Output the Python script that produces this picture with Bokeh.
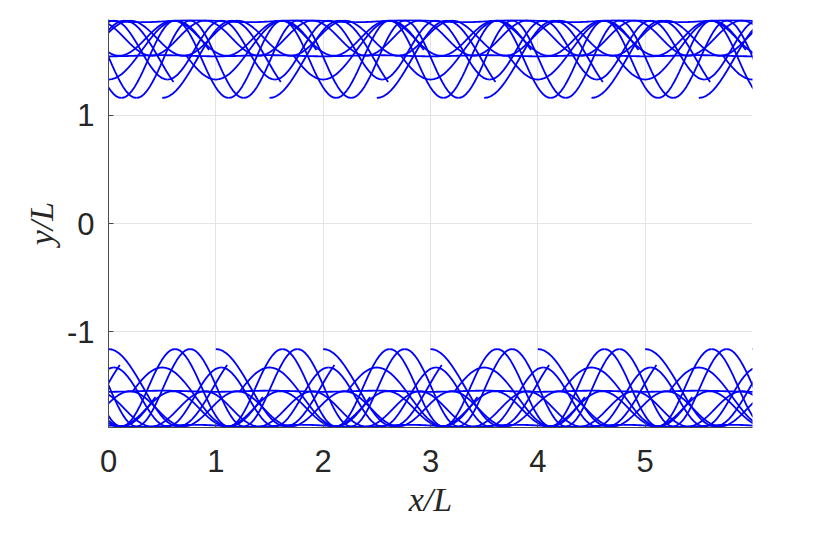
from bokeh.plotting import figure
from bokeh.models import FixedTicker, Range1d
from bokeh.embed import file_html
from bokeh.resources import INLINE

# one period of an arc (0 = lowest point, 1 = highest point)
profile = [0, .006, .024, .055, .095, .146, .206, .273, .345, .422, .5,
           .578, .655, .727, .794, .854, .905, .946, .976, .994, 1,
           .994, .976, .946, .905, .854, .794, .727, .655, .578, .5,
           .422, .345, .273, .206, .146, .095, .055, .024, .006, 0]

# upper band trajectories (the pattern repeats every x/L = 1)
# lowest y, highest y, x of lowest point, x-length of one swing, first x, last x
traj_low = [1.16, 1.16, 1.16, 1.55, 1.55, 1.55, 1.33, 1.33, 1.545, 1.86]
traj_high = [1.875, 1.875, 1.875, 1.875, 1.875, 1.875, 1.875, 1.875, 1.555, 1.88]
traj_trough = [0.12, 0.26, 0.50, 0.10, 0.40, 0.70, 0.00, 0.55, 0.00, 0.30]
traj_period = [1.0, 1.0, 1.3, 1.0, 1.0, 1.0, 1.25, 1.0, 1.0, 1.0]
traj_start = [0.12, 0.26, 0.50, 0.10, 0.40, 0.70, -0.30, 0.55, 0.00, 0.30]
traj_end = [1.12, 1.26, 1.62, 1.10, 1.40, 1.70, 0.95, 1.55, 1.00, 1.30]

# the lower band mirrors the upper band, shifted by half a period
band_sign = [1, -1]
band_shift = [0.0, 0.5]

x_ticks = [0, 1, 2, 3, 4, 5]
y_ticks = [-1, 0, 1]

n = len(profile) - 1
xs, ys = [], []
for sgn, sh in zip(band_sign, band_shift):
    for lo, hi, tr, per, x0, x1 in zip(traj_low, traj_high, traj_trough,
                                       traj_period, traj_start, traj_end):
        for k in range(-3, 8):
            cx, cy = [], []
            for rep in range(-2, 3):
                for i, pv in enumerate(profile):
                    xv = tr + (rep + i / n) * per
                    if x0 - 1e-9 <= xv <= x1 + 1e-9:
                        xp = xv + sh + k
                        if cx and abs(xp - cx[-1]) < 1e-9:
                            continue
                        cx.append(xp)
                        cy.append(sgn * (lo + (hi - lo) * pv))
            if cx and cx[-1] >= -0.1 and cx[0] <= 6.1:
                xs.append(cx)
                ys.append(cy)

p = figure(x_range=Range1d(0, 6), y_range=Range1d(-1.885, 1.885),
           frame_width=644, frame_height=408,
           output_backend="svg", toolbar_location=None,
           min_border_left=108, min_border_right=60, min_border_top=19, min_border_bottom=100)
p.outline_line_color = None
p.background_fill_color = "white"
p.border_fill_color = "white"

p.multi_line(xs=xs, ys=ys, line_color="#0000ff", line_width=1.8)

p.xaxis.ticker = FixedTicker(ticks=x_ticks)
p.yaxis.ticker = FixedTicker(ticks=y_ticks)
p.xgrid.ticker = FixedTicker(ticks=x_ticks)
p.ygrid.ticker = FixedTicker(ticks=y_ticks)
p.grid.grid_line_color = "#e4e4e4"
p.grid.grid_line_width = 1
p.yaxis.major_label_overrides = {-1: "-1", 0: "0", 1: "1"}

for ax in (p.xaxis[0], p.yaxis[0]):
    ax.axis_line_color = "#4a4a4a"
    ax.axis_line_width = 1
    ax.major_tick_in = 5
    ax.major_tick_out = 0
    ax.major_tick_line_color = "#4a4a4a"
    ax.minor_tick_line_color = None
    ax.major_label_text_font = "Liberation Sans"
    ax.major_label_text_font_size = "31px"
    ax.major_label_text_color = "#262626"
    ax.axis_label_text_font = "Liberation Serif"
    ax.axis_label_text_font_style = "italic"
    ax.axis_label_text_font_size = "34px"
    ax.axis_label_text_color = "#262626"

p.xaxis.axis_label = "x/L"
p.yaxis.axis_label = "y/L"
p.xaxis.major_label_standoff = 22
p.yaxis.major_label_standoff = 14
p.xaxis.axis_label_standoff = 6
p.yaxis.axis_label_standoff = 4

open("out.html", "w").write(file_html(p, INLINE))
